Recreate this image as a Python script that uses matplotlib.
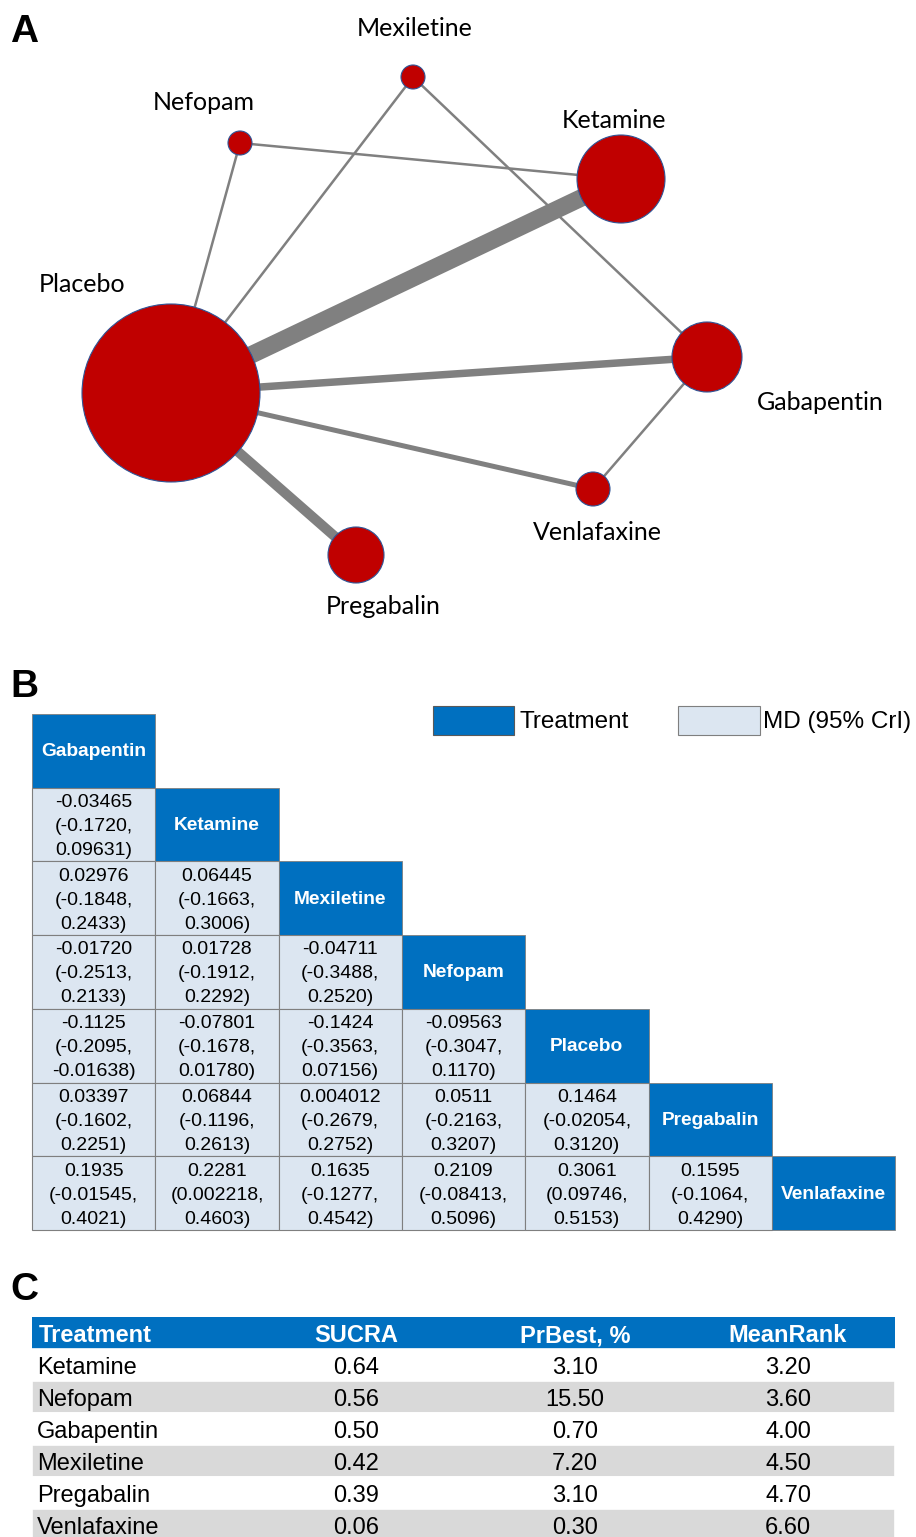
import matplotlib.pyplot as plt
from matplotlib.patches import Circle, Rectangle

plt.rcParams['font.family'] = ['Liberation Sans', 'DejaVu Sans']

# --- A: network of treatments ---
nodes = ['Placebo', 'Ketamine', 'Gabapentin', 'Pregabalin', 'Venlafaxine', 'Nefopam', 'Mexiletine']
node_size = [89, 44, 35, 28, 17, 12, 12]
edges = [('Placebo', 'Ketamine'), ('Placebo', 'Pregabalin'), ('Placebo', 'Gabapentin'),
         ('Placebo', 'Venlafaxine'), ('Placebo', 'Nefopam'), ('Placebo', 'Mexiletine'),
         ('Nefopam', 'Ketamine'), ('Mexiletine', 'Gabapentin'), ('Gabapentin', 'Venlafaxine')]
n_studies = [7, 4, 3, 2, 1, 1, 1, 1, 1]

# --- B: league table (row treatment vs column treatment) ---
treatments = ['Gabapentin', 'Ketamine', 'Mexiletine', 'Nefopam', 'Placebo', 'Pregabalin', 'Venlafaxine']
md_mean = [
    ['-0.03465'],
    ['0.02976', '0.06445'],
    ['-0.01720', '0.01728', '-0.04711'],
    ['-0.1125', '-0.07801', '-0.1424', '-0.09563'],
    ['0.03397', '0.06844', '0.004012', '0.0511', '0.1464'],
    ['0.1935', '0.2281', '0.1635', '0.2109', '0.3061', '0.1595'],
]
md_low = [
    ['-0.1720'],
    ['-0.1848', '-0.1663'],
    ['-0.2513', '-0.1912', '-0.3488'],
    ['-0.2095', '-0.1678', '-0.3563', '-0.3047'],
    ['-0.1602', '-0.1196', '-0.2679', '-0.2163', '-0.02054'],
    ['-0.01545', '0.002218', '-0.1277', '-0.08413', '0.09746', '-0.1064'],
]
md_high = [
    ['0.09631'],
    ['0.2433', '0.3006'],
    ['0.2133', '0.2292', '0.2520'],
    ['-0.01638', '0.01780', '0.07156', '0.1170'],
    ['0.2251', '0.2613', '0.2752', '0.3207', '0.3120'],
    ['0.4021', '0.4603', '0.4542', '0.5096', '0.5153', '0.4290'],
]

# --- C: ranking ---
rank_names = ['Ketamine', 'Nefopam', 'Gabapentin', 'Mexiletine', 'Pregabalin', 'Venlafaxine']
sucra = [0.64, 0.56, 0.50, 0.42, 0.39, 0.06]
pr_best = [3.10, 15.50, 0.70, 7.20, 3.10, 0.30]
mean_rank = [3.20, 3.60, 4.00, 4.50, 4.70, 6.60]

BLUE = '#0070C0'
LIGHT = '#DCE6F1'
RED = '#C00000'

fig = plt.figure(figsize=(9.16, 15.37), dpi=100)
ax = fig.add_axes([0, 0, 1, 1])
ax.set_xlim(0, 916)
ax.set_ylim(1537, 0)
ax.axis('off')

px = 72 / 100  # points per pixel

# panel letters
for letter, y in [('A', 32), ('B', 687), ('C', 1290)]:
    ax.text(10, y, letter, fontsize=28, fontweight='bold', va='center', ha='left')

# network layout
pos = {'Placebo': (171, 393), 'Ketamine': (621, 179), 'Gabapentin': (707, 357),
       'Pregabalin': (356, 555), 'Venlafaxine': (593, 489), 'Nefopam': (240, 143),
       'Mexiletine': (413, 77)}
label_pos = {'Placebo': (82, 285), 'Ketamine': (614, 120), 'Gabapentin': (820, 402),
             'Pregabalin': (383, 607), 'Venlafaxine': (597, 532), 'Nefopam': (204, 102),
             'Mexiletine': (415, 29)}

for (a, b), n in zip(edges, n_studies):
    (x1, y1), (x2, y2) = pos[a], pos[b]
    ax.plot([x1, x2], [y1, y2], color='#808080', lw=n * 2.5 * px,
            solid_capstyle='butt', zorder=1)

for name, r in zip(nodes, node_size):
    ax.add_patch(Circle(pos[name], r, facecolor=RED, edgecolor='#2F5597',
                        lw=0.8, zorder=2))
    lx, ly = label_pos[name]
    ax.text(lx, ly, name, fontsize=18, family=['Lato', 'DejaVu Sans'],
            ha='center', va='center', zorder=3)

# league table
x0, y0, cw, ch = 32, 714, 123.3, 73.7
for i, t in enumerate(treatments):
    for j in range(i + 1):
        x = x0 + j * cw
        y = y0 + i * ch
        if i == j:
            ax.add_patch(Rectangle((x, y), cw, ch, facecolor=BLUE,
                                   edgecolor='#7F7F7F', lw=0.6, zorder=2))
            ax.text(x + cw / 2, y + ch / 2 + 1, t, color='white', fontsize=13.8,
                    fontweight='bold', ha='center', va='center', zorder=3)
        else:
            ax.add_patch(Rectangle((x, y), cw, ch, facecolor=LIGHT,
                                   edgecolor='#7F7F7F', lw=0.8, zorder=2))
            lines = [md_mean[i - 1][j], '(' + md_low[i - 1][j] + ',',
                     md_high[i - 1][j] + ')']
            for k, s in enumerate(lines):
                ax.text(x + cw / 2, y + ch / 2 + 2 + (k - 1) * 24, s, fontsize=14,
                        ha='center', va='center', zorder=3)

# legend
ax.add_patch(Rectangle((433, 706), 81, 29, facecolor=BLUE, edgecolor='#595959', lw=0.8))
ax.text(519, 722, 'Treatment', fontsize=17.5, ha='left', va='center')
ax.add_patch(Rectangle((678, 706), 82, 29, facecolor=LIGHT, edgecolor='#7F7F7F', lw=0.8))
ax.text(763, 722, 'MD (95% CrI)', fontsize=17.5, ha='left', va='center')

# ranking table
tx0, tx1, ty0, rh = 32, 895, 1317, 32
col_x = [39, 356, 575, 788]
headers = ['Treatment', 'SUCRA', 'PrBest, %', 'MeanRank']
ax.add_patch(Rectangle((tx0, ty0), tx1 - tx0, rh, facecolor=BLUE, edgecolor='none'))
for k, h in enumerate(headers):
    ax.text(col_x[k], ty0 + rh / 2 + 3, h, color='white', fontsize=17, fontweight='bold',
            ha='left' if k == 0 else 'center', va='center')
for r, name in enumerate(rank_names):
    y = ty0 + rh * (r + 1)
    fc = '#D9D9D9' if r % 2 else 'white'
    ax.add_patch(Rectangle((tx0, y), tx1 - tx0, rh, facecolor=fc, edgecolor='white', lw=1.2))
    vals = [name, f'{sucra[r]:.2f}', f'{pr_best[r]:.2f}', f'{mean_rank[r]:.2f}']
    for k, v in enumerate(vals):
        ax.text(col_x[k] - (2 if k == 0 else 0), y + rh / 2 + 3, v, fontsize=17,
                ha='left' if k == 0 else 'center', va='center')

fig.savefig('out.png', dpi=100, facecolor='white')
